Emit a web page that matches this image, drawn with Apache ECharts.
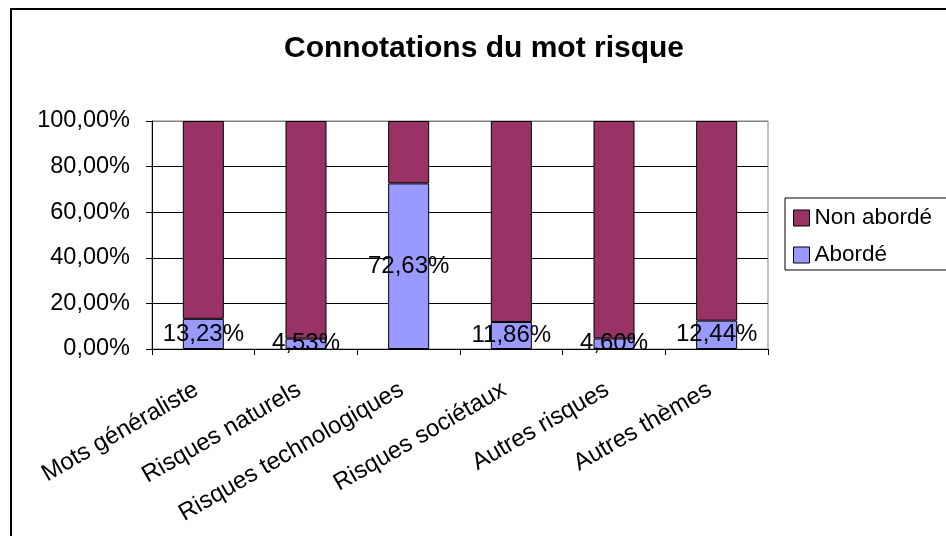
<!DOCTYPE html>
<html>
<head>
<meta charset="utf-8">
<script src="https://cdn.jsdelivr.net/npm/echarts@6/dist/echarts.min.js"></script>
<style>
  html, body { margin: 0; padding: 0; background: #fff; }
  #chart { width: 946px; height: 536px; }
</style>
</head>
<body>
<div id="chart"></div>
<script>
const categories = ["Mots généraliste", "Risques naturels", "Risques technologiques", "Risques sociétaux", "Autres risques", "Autres thèmes"];
const aborde = [13.23, 4.53, 72.63, 11.86, 4.60, 12.44];
const nonAborde = [86.77, 95.47, 27.37, 88.14, 95.40, 87.56];
const yTicks = [0, 20, 40, 60, 80, 100];

const font = "'Liberation Sans', Arial, sans-serif";
const myChart = echarts.init(document.getElementById("chart"));

/** french style percent, 2 decimals */
function pct(v) {
  return v.toFixed(2).replace(".", ",") + "%";
}

const option = {
  animation: false,
  backgroundColor: "#fff",
  textStyle: { fontFamily: font, color: "#000" },
  graphic: [
    {
      type: "rect",
      shape: { x: 11, y: 9, width: 960, height: 560 },
      style: { fill: "none", stroke: "#000", lineWidth: 2 },
      z: 0
    }
  ],
  title: {
    text: "Connotations du mot risque",
    left: 484,
    top: 34,
    padding: 0,
    textAlign: "center",
    textStyle: { fontFamily: font, fontSize: 30, fontWeight: "bold", color: "#000" }
  },
  legend: {
    data: ["Non abordé", "Abordé"],
    orient: "vertical",
    left: 785,
    top: 198,
    padding: [8, 40, 3, 8],
    itemGap: 13,
    itemWidth: 16,
    itemHeight: 16,
    icon: "rect",
    borderColor: "#000",
    borderWidth: 1,
    backgroundColor: "#fff",
    textStyle: { fontFamily: font, fontSize: 22.5, color: "#000", lineHeight: 24 },
    itemStyle: { borderColor: "#000", borderWidth: 1 }
  },
  grid: {
    left: 152,
    top: 121,
    right: 178,
    bottom: 187,
    show: true,
    borderColor: "#808080",
    borderWidth: 1
  },
  xAxis: {
    type: "category",
    data: categories,
    axisLine: { lineStyle: { color: "#000", width: 1 } },
    axisTick: { show: true, length: 6, lineStyle: { color: "#000" } },
    axisLabel: {
      rotate: 30,
      margin: 35,
      padding: [0, 8, 0, 0],
      interval: 0,
      fontFamily: font,
      fontSize: 24,
      color: "#000"
    }
  },
  yAxis: {
    type: "value",
    min: yTicks[0],
    max: yTicks[yTicks.length - 1],
    interval: 20,
    axisLine: { show: true, lineStyle: { color: "#000", width: 1 } },
    axisTick: { show: true, length: 6, lineStyle: { color: "#000" } },
    axisLabel: {
      margin: 22,
      fontFamily: font,
      fontSize: 23.5,
      color: "#000",
      formatter: (v) => pct(v)
    },
    splitLine: {
      lineStyle: { color: ["#000", "#000", "#000", "#000", "#000", "#808080"], width: 1 }
    }
  },
  series: [
    {
      name: "Abordé",
      type: "bar",
      stack: "total",
      barWidth: 41,
      data: aborde,
      itemStyle: { color: "#9999FF", borderColor: "#000", borderWidth: 1 },
      label: {
        show: true,
        position: "inside",
        fontFamily: font,
        fontSize: 24,
        color: "#000",
        formatter: (p) => pct(p.value)
      }
    },
    {
      name: "Non abordé",
      type: "bar",
      stack: "total",
      barWidth: 41,
      data: nonAborde,
      itemStyle: { color: "#993366", borderColor: "#000", borderWidth: 1 }
    }
  ]
};

myChart.setOption(option);
</script>
</body>
</html>
